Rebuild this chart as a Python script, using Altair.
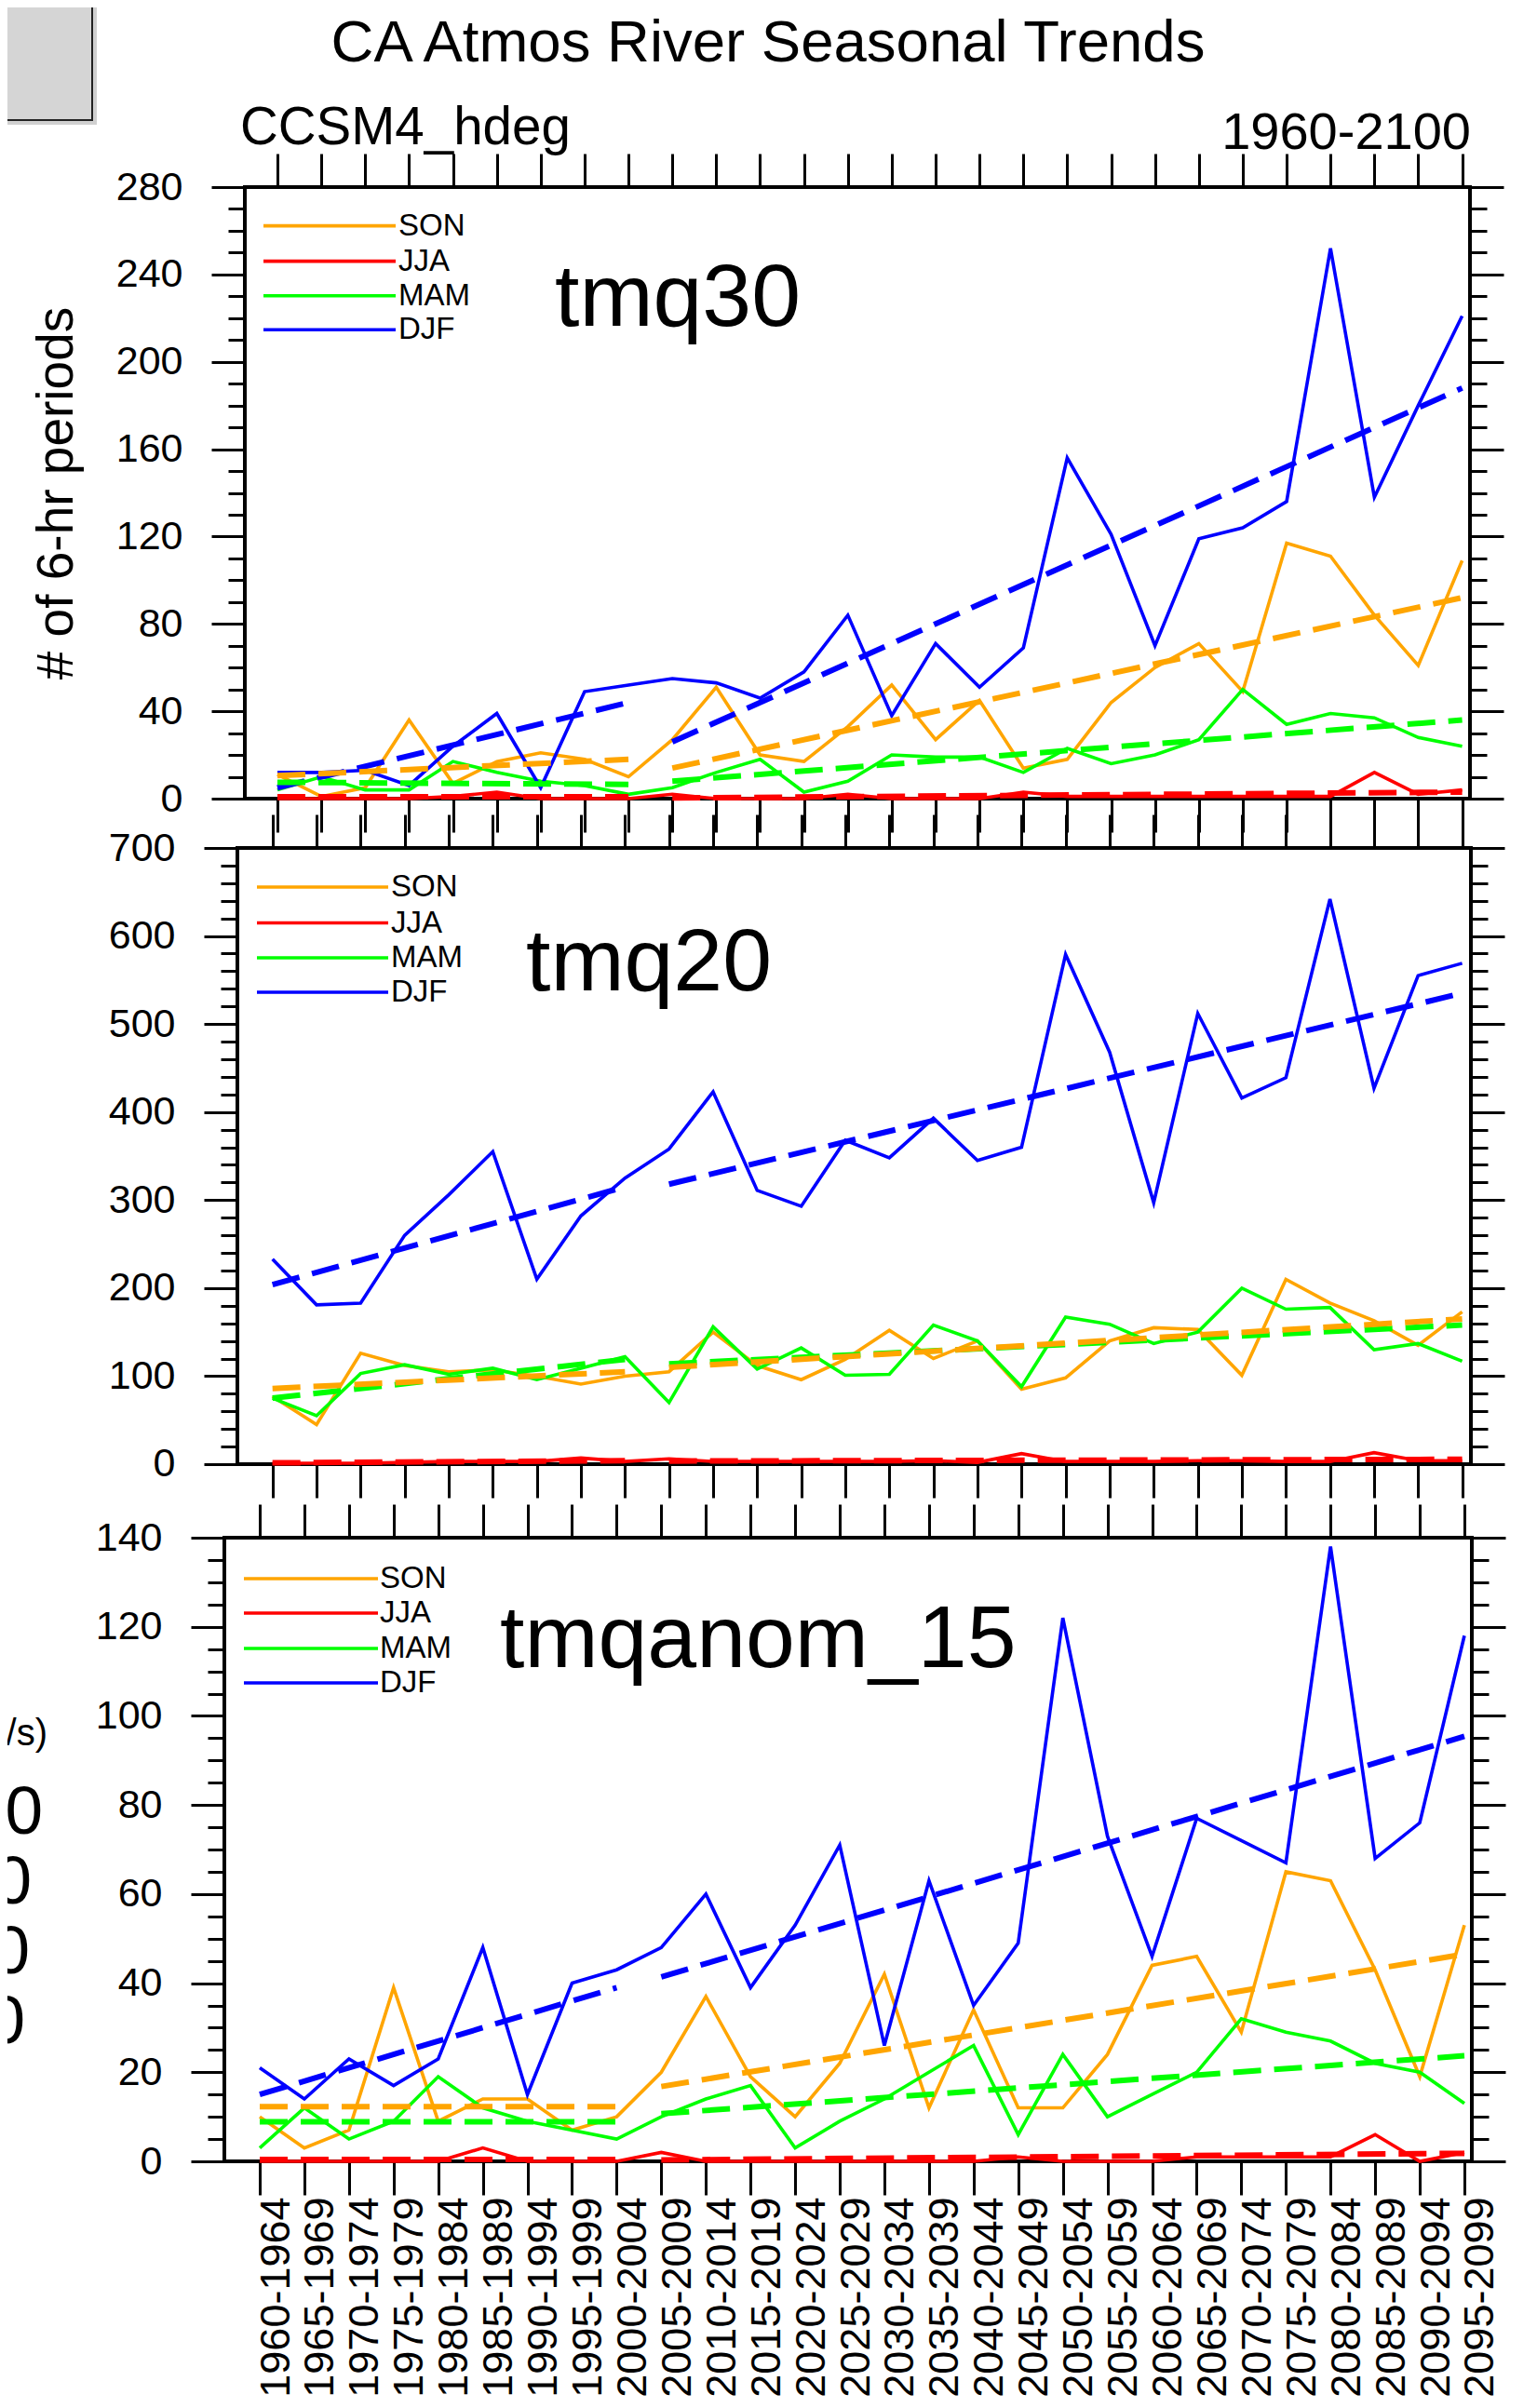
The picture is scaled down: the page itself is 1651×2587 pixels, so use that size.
import altair as alt
import pandas as pd

FONT = "Liberation Sans"

PERIODS = ["1960-1964", "1965-1969", "1970-1974", "1975-1979", "1980-1984", "1985-1989",
           "1990-1994", "1995-1999", "2000-2004", "2005-2009", "2010-2014", "2015-2019",
           "2020-2024", "2025-2029", "2030-2034", "2035-2039", "2040-2044", "2045-2049",
           "2050-2054", "2055-2059", "2060-2064", "2065-2069", "2070-2074", "2075-2079",
           "2080-2084", "2085-2089", "2090-2094", "2095-2099"]
SEASONS = ["SON", "JJA", "MAM", "DJF"]
SEASON_COLORS = ["#FFA500", "#FF0000", "#00FF00", "#0000FF"]
TREND_ORDER = ["DJF", "MAM", "SON", "JJA"]
# period index of the trend segment end points: segment 1 (0..8), segment 2 (9..27)
SEG_IDX = [0, 8, 9, 27]

# ---------------- tmq30 ----------------
TMQ30_SON = [11, 1, 5, 36, 7, 17, 21, 18, 10, 27, 51, 20, 17, 33, 52, 27, 45, 14, 18, 44, 60, 71, 49, 117, 111, 84, 61, 109]
TMQ30_JJA = [0, 0, 0, 0, 1, 3, 0, 0, 0, 2, 0, 0, 0, 2, 0, 0, 0, 3, 1, 1, 1, 1, 1, 1, 1, 12, 2, 4]
TMQ30_MAM = [4, 10, 4, 4, 17, 12, 8, 6, 2, 5, 12, 18, 3, 8, 20, 19, 19, 12, 23, 16, 20, 27, 50, 34, 39, 37, 28, 24]
TMQ30_DJF = [12, 12, 13, 6, 24, 39, 5, 49, 52, 55, 53, 46, 58, 84, 38, 71, 51, 69, 156, 121, 70, 119, 124, 136, 252, 138, 180, 221]
TMQ30_TREND_SON = [10.5, 18, 14, 92]
TMQ30_TREND_JJA = [0.8, 0.8, 0.3, 3]
TMQ30_TREND_MAM = [7.5, 6.5, 8, 36]
TMQ30_TREND_DJF = [5, 44, 26, 188]

# ---------------- tmq20 ----------------
TMQ20_SON = [77, 45, 126, 112, 105, 107, 100, 91, 100, 105, 150, 112, 96, 119, 152, 120, 140, 85, 98, 140, 155, 153, 101, 210, 183, 163, 135, 173]
TMQ20_JJA = [1, 1, 1, 2, 3, 3, 3, 7, 3, 6, 3, 3, 3, 3, 3, 4, 2, 12, 3, 3, 3, 4, 4, 3, 3, 13, 4, 4]
TMQ20_MAM = [75, 55, 103, 113, 102, 109, 96, 109, 122, 70, 156, 108, 132, 101, 102, 158, 140, 88, 167, 159, 137, 150, 200, 176, 178, 130, 137, 117]
TMQ20_DJF = [233, 181, 183, 260, 306, 355, 210, 282, 325, 358, 423, 311, 293, 368, 348, 393, 345, 360, 579, 468, 297, 512, 416, 439, 642, 427, 555, 569]
TMQ20_TREND_SON = [86, 105, 110, 165]
TMQ20_TREND_JJA = [1.5, 4, 3.5, 5.5]
TMQ20_TREND_MAM = [75, 119, 114, 158]
TMQ20_TREND_DJF = [204, 315, 318, 535]

# ---------------- tmqanom_15 ----------------
ANOM_SON = [10, 3, 7, 39, 9, 14, 14, 7, 10, 20, 37, 19, 10, 22, 42, 12, 34, 12, 12, 24, 44, 46, 29, 65, 63, 43, 19, 53]
ANOM_JJA = [0, 0, 0, 0, 0, 3, 0, 0, 0, 2, 0, 0, 0, 0, 0, 0, 0, 1, 0, 0, 0, 1, 1, 1, 1, 6, 0, 2]
ANOM_MAM = [3, 12, 5, 9, 19, 12, 9, 7, 5, 10, 14, 17, 3, 9, 14, 20, 26, 6, 24, 10, 15, 20, 32, 29, 27, 22, 20, 13]
ANOM_DJF = [21, 14, 23, 17, 23, 48, 15, 40, 43, 48, 60, 39, 53, 71, 26, 63, 35, 49, 122, 73, 46, 77, 72, 67, 138, 68, 76, 118]
ANOM_TREND_SON = [12.3, 12.3, 16.8, 46.5]
ANOM_TREND_JJA = [0.4, 0.4, 0.3, 1.8]
ANOM_TREND_MAM = [8.9, 8.9, 10.7, 23.7]
ANOM_TREND_DJF = [15, 39, 41.4, 95.4]

PLOT_W = 1340

PANELS = [
    dict(name="tmq30", series=[TMQ30_SON, TMQ30_JJA, TMQ30_MAM, TMQ30_DJF],
         trends=[TMQ30_TREND_SON, TMQ30_TREND_JJA, TMQ30_TREND_MAM, TMQ30_TREND_DJF],
         height=657, ydom=[0, 280], major=40, minor=10, xdom=[-1.2093, 27.221],
         fl=22, fr=1338, boff=0, leg_x=[42, 184, 187], leg_y=[41.6, 79.6, 116.7, 153.3],
         lab=[355, 149], bottom_labels=False, ytitle="# of 6-hr periods"),
    dict(name="tmq20", series=[TMQ20_SON, TMQ20_JJA, TMQ20_MAM, TMQ20_DJF],
         trends=[TMQ20_TREND_SON, TMQ20_TREND_JJA, TMQ20_TREND_MAM, TMQ20_TREND_DJF],
         height=688, ydom=[-27.5, 700], major=100, minor=20, xdom=[-1.0923, 27.220],
         fl=14, fr=1339, boff=-26, leg_x=[35, 176, 179], leg_y=[42, 80.5, 118, 155],
         lab=[324, 153], bottom_labels=False, ytitle=None),
    dict(name="tmqanom_15", series=[ANOM_SON, ANOM_JJA, ANOM_MAM, ANOM_DJF],
         trends=[ANOM_TREND_SON, ANOM_TREND_JJA, ANOM_TREND_MAM, ANOM_TREND_DJF],
         height=670, ydom=[0, 140], major=20, minor=5, xdom=[-0.7929, 27.167],
         fl=0, fr=1340, boff=0, leg_x=[21, 165, 167], leg_y=[44, 81, 119, 156],
         lab=[296, 139], bottom_labels=True, ytitle=None),
]
SPACING = 53
PAD_LEFT, PAD_TOP = 233, 193
SVG_W, SVG_H = 1635, 2571

COLOR_OF = dict(zip(SEASONS, SEASON_COLORS))
LABEL_EXPR = "[" + ",".join("'%s'" % p for p in PERIODS) + "][datum.value]"


def series_df(series):
    rows = []
    for s, vals in zip(SEASONS, series):
        for i, v in enumerate(vals):
            rows.append({"i": i, "v": v, "season": s})
    return pd.DataFrame(rows)


def trend_df(trends):
    rows = []
    for s, t in zip(SEASONS, trends):
        for k, (i, v) in enumerate(zip(SEG_IDX, t)):
            rows.append({"i": i, "v": v, "season": s, "seg": k // 2})
    return pd.DataFrame(rows)


def text_layer(txt, x, y, size, align="left", baseline="alphabetic", color="black"):
    return alt.Chart(alt.Data(values=[{"t": txt}])).mark_text(
        align=align, baseline=baseline, fontSize=size, font=FONT, color=color).encode(
        text="t:N", x=alt.value(x), y=alt.value(y))


def build_panel(p):
    xs = alt.Scale(domain=p["xdom"], nice=False, zero=False)
    ys = alt.Scale(domain=p["ydom"], nice=False, zero=False)
    ymax = p["ydom"][1]
    majors = list(range(0, ymax + 1, p["major"]))
    minors = list(range(0, ymax + 1, p["minor"]))
    xticks = list(range(len(PERIODS)))
    common = dict(domain=False, grid=False, tickColor="black", tickWidth=3,
                  labelOverlap=False, labelFlush=False)

    left_kw = dict(orient="left", values=majors, tickSize=36, offset=-p["fl"],
                   labelFontSize=43, labelPadding=31, labelColor="black", labelFont=FONT, **common)
    if p["ytitle"]:
        left_kw.update(title=p["ytitle"], titleFontSize=55, titleFontWeight="normal", titleFont=FONT,
                       titleColor="black", titleAngle=270, titleX=-186, titleY=p["height"] / 2,
                       titleAlign="center", titleBaseline="alphabetic")
    else:
        left_kw["title"] = None
    ax_left = alt.Axis(**left_kw)
    ax_left_minor = alt.Axis(orient="left", values=minors, tickSize=18, offset=-p["fl"],
                             labels=False, title=None, **common)
    ax_right = alt.Axis(orient="right", values=majors, tickSize=36, offset=-(PLOT_W - p["fr"]),
                        labels=False, title=None, **common)
    ax_right_minor = alt.Axis(orient="right", values=minors, tickSize=18, offset=-(PLOT_W - p["fr"]),
                              labels=False, title=None, **common)
    if p["bottom_labels"]:
        ax_bottom = alt.Axis(orient="bottom", values=xticks, tickSize=36, offset=p["boff"],
                             labelExpr=LABEL_EXPR, labelAngle=270, labelAlign="right",
                             labelBaseline="middle", labelOffset=17, labelPadding=2,
                             labelFontSize=45, labelColor="black", labelFont=FONT,
                             labelLimit=0, title=None, **common)
    else:
        ax_bottom = alt.Axis(orient="bottom", values=xticks, tickSize=36, offset=p["boff"],
                             labels=False, title=None, **common)
    ax_top = alt.Axis(orient="top", values=xticks, tickSize=36, labels=False, title=None, **common)

    df = series_df(p["series"])
    tdf = trend_df(p["trends"])
    layers = []

    if p["name"] == "tmq30":
        # clipped grey box of the screenshot (top-left corner)
        layers.append(alt.Chart(alt.Data(values=[{}])).mark_rect(fill="#777777", opacity=0.35).encode(
            x=alt.value(-241), x2=alt.value(-137), y=alt.value(-201), y2=alt.value(-67)))
        layers.append(alt.Chart(alt.Data(values=[{}])).mark_rect(fill="#d5d5d5", stroke="#222222", strokeWidth=2).encode(
            x=alt.value(-245), x2=alt.value(-142), y=alt.value(-205), y2=alt.value(-72)))
        layers.append(text_layer("CA Atmos River Seasonal Trends", 584, -135, 63.5, align="center"))
        layers.append(text_layer("CCSM4_hdeg", 17, -46, 56.5))
        layers.append(text_layer("1960-2100", 1339, -41, 56, align="right"))
    if p["name"] == "tmqanom_15":
        # clipped fragments of a neighbouring figure at the left edge
        layers.append(text_layer("(m/s)", -190, 223, 40, align="right"))
        for txt, xr, yb in [("00", -195, 318), ("0", -207, 393), ("0", -209, 468), ("0", -214, 543)]:
            layers.append(text_layer(txt, xr, yb, 73, align="right"))

    # frame
    layers.append(alt.Chart(alt.Data(values=[{"lo": 0, "hi": ymax}])).mark_rect(
        fillOpacity=0, stroke="black", strokeWidth=4).encode(
        x=alt.value(p["fl"]), x2=alt.value(p["fr"]),
        y=alt.Y("hi:Q", scale=ys, axis=None), y2="lo:Q"))

    # data lines (each carrying one of the axes)
    xaxes = [ax_bottom, ax_top, None, None]
    yaxes = [ax_left, ax_left_minor, ax_right, ax_right_minor]
    for s, c, xa, ya in zip(SEASONS, SEASON_COLORS, xaxes, yaxes):
        layers.append(alt.Chart(df[df.season == s]).mark_line(color=c, strokeWidth=3.6).encode(
            x=alt.X("i:Q", scale=xs, axis=xa),
            y=alt.Y("v:Q", scale=ys, axis=ya)))

    # dashed trend segments
    for s in TREND_ORDER:
        layers.append(alt.Chart(tdf[tdf.season == s]).mark_line(
            color=COLOR_OF[s], strokeWidth=6, strokeDash=[30, 14]).encode(
            x=alt.X("i:Q", scale=xs, axis=None),
            y=alt.Y("v:Q", scale=ys, axis=None),
            detail="seg:N"))

    # legend
    lx1, lx2, ltx = p["leg_x"]
    for s, c, ly in zip(SEASONS, SEASON_COLORS, p["leg_y"]):
        layers.append(alt.Chart(alt.Data(values=[{"s": s}])).mark_rule(color=c, strokeWidth=3.6).encode(
            x=alt.value(lx1), x2=alt.value(lx2), y=alt.value(ly)))
        layers.append(text_layer(s, ltx, ly, 33, baseline="middle"))

    # panel name
    layers.append(text_layer(p["name"], p["lab"][0], p["lab"][1], 95))

    return alt.layer(*layers).resolve_axis(x="independent", y="independent").properties(
        width=PLOT_W, height=p["height"])


panels = [build_panel(p) for p in PANELS]

# with autosize "none" the view is padding + the concat width (its height counts as 0)
chart = alt.vconcat(*panels, spacing=SPACING, bounds="flush").properties(
    autosize=alt.AutoSizeParams(type="none"),
    padding={"left": PAD_LEFT, "top": PAD_TOP,
             "right": SVG_W - PAD_LEFT - PLOT_W, "bottom": SVG_H - PAD_TOP},
).configure(font=FONT).configure_view(strokeWidth=0, stroke="transparent")

chart.save("out.html", embed_options={"renderer": "svg", "actions": False})
